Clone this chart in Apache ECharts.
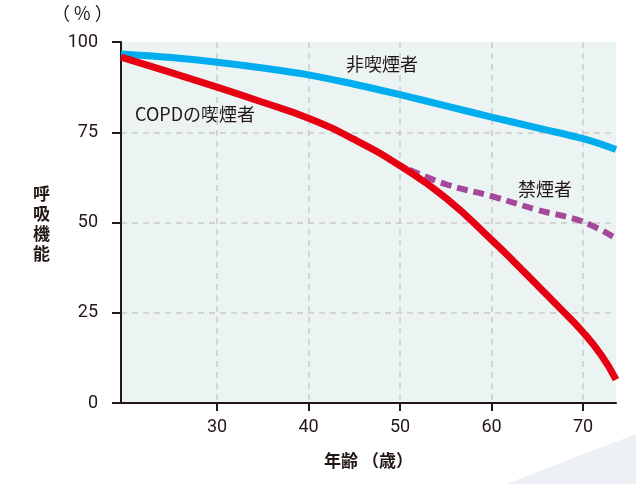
<!DOCTYPE html>
<html>
<head>
<meta charset="utf-8">
<script src="https://cdn.jsdelivr.net/npm/echarts@6/dist/echarts.min.js"></script>
<style>html,body{margin:0;padding:0;background:#fff}#c{width:636px;height:484px}</style>
</head>
<body>
<div id="c"></div>
<script>
// ---- data ----
const xTicks = [30, 40, 50, 60, 70];
const yTicks = [0, 25, 50, 75, 100];
const nonSmokerAges = [19.5, 25, 30, 35, 40, 45, 50, 55, 60, 65, 70, 73.6];
const nonSmoker     = [96.7, 95.7, 94.4, 92.8, 90.9, 88.3, 85.4, 82.3, 79.2, 76.2, 73.2, 70.2];
const copdAges = [19.5, 25, 30, 35, 40, 45, 50, 55, 60, 62.5, 65, 67.5, 70, 72, 73.6];
const copd     = [95.8, 91.5, 87.5, 83.3, 78.9, 73.0, 65.7, 56.8, 45.2, 39.0, 32.6, 26.2, 19.6, 13.2, 6.5];
const quitAges = [51, 55, 60, 65, 70, 73.6];
const quit     = [64.6, 60.6, 57.3, 53.5, 50.2, 45.6];
const labelNonSmoker = '非喫煙者';
const labelCopd = 'COPDの喫煙者';
const labelQuit = '禁煙者';

const zip = (a, b) => a.map((v, i) => [v, b[i]]);
const ink = '#231815';
const cjk = 'Noto Sans CJK JP';
const num = 'Roboto';

const chart = echarts.init(document.getElementById('c'), null, {renderer: 'canvas'});
const txt = (text, left, top, size, weight, extra) => ({
  type: 'text', left, top,
  style: Object.assign({text, fontFamily: cjk, fontSize: size, fontWeight: weight, fill: ink}, extra || {})
});
chart.setOption({
  animation: false,
  backgroundColor: '#fff',
  grid: {left: 121, right: 20, top: 42, bottom: 81, show: true, backgroundColor: '#EBF4F3', borderWidth: 0},
  graphic: [
    {type: 'polygon', z: -10, shape: {points: [[506, 484], [636, 434], [636, 484]]}, style: {fill: '#EDF0F4'}},
    txt('（ % ）', 52, 4, 18, 'normal'),
    txt('呼\n吸\n機\n能', 33, 184, 17, 'bold', {lineHeight: 20}),
    txt(labelNonSmoker, 346, 55, 18, 'normal'),
    txt(labelCopd, 135, 105, 18, 'normal'),
    txt(labelQuit, 518, 180, 18, 'normal')
  ],
  xAxis: {
    type: 'value', min: 19.5, max: 73.6,
    name: '年齢 （歳）', nameLocation: 'middle', nameGap: 49,
    nameTextStyle: {fontFamily: cjk, fontSize: 17, fontWeight: 'bold', color: ink},
    axisLine: {lineStyle: {color: ink, width: 2}},
    axisTick: {customValues: xTicks, length: 8, lineStyle: {color: ink, width: 2}},
    axisLabel: {customValues: xTicks, margin: 15, fontFamily: num, fontSize: 18, color: ink},
    splitLine: {show: true, showMinLine: true, showMaxLine: true, lineStyle: {color: '#C9CCCB', width: 1.5, type: [6, 5]}}
  },
  yAxis: {
    type: 'value', min: 0, max: 100, interval: 25,
    axisLine: {show: true, lineStyle: {color: ink, width: 2}},
    axisTick: {show: true, length: 9, lineStyle: {color: ink, width: 2}},
    axisLabel: {margin: 23, fontFamily: num, fontSize: 18, color: ink},
    splitLine: {show: true, showMinLine: false, showMaxLine: false, lineStyle: {color: '#C9CCCB', width: 1.5, type: [6, 5]}}
  },
  series: [
    {type: 'line', data: zip(nonSmokerAges, nonSmoker), smooth: 0.4, symbol: 'none', lineStyle: {color: '#00AEEF', width: 7}},
    {type: 'line', data: zip(quitAges, quit), smooth: 0.4, symbol: 'none', lineStyle: {color: '#A5489A', width: 6, type: [11, 6]}},
    {type: 'line', data: zip(copdAges, copd), smooth: 0.5, symbol: 'none', lineStyle: {color: '#E60012', width: 7}}
  ]
});
</script>
</body>
</html>
